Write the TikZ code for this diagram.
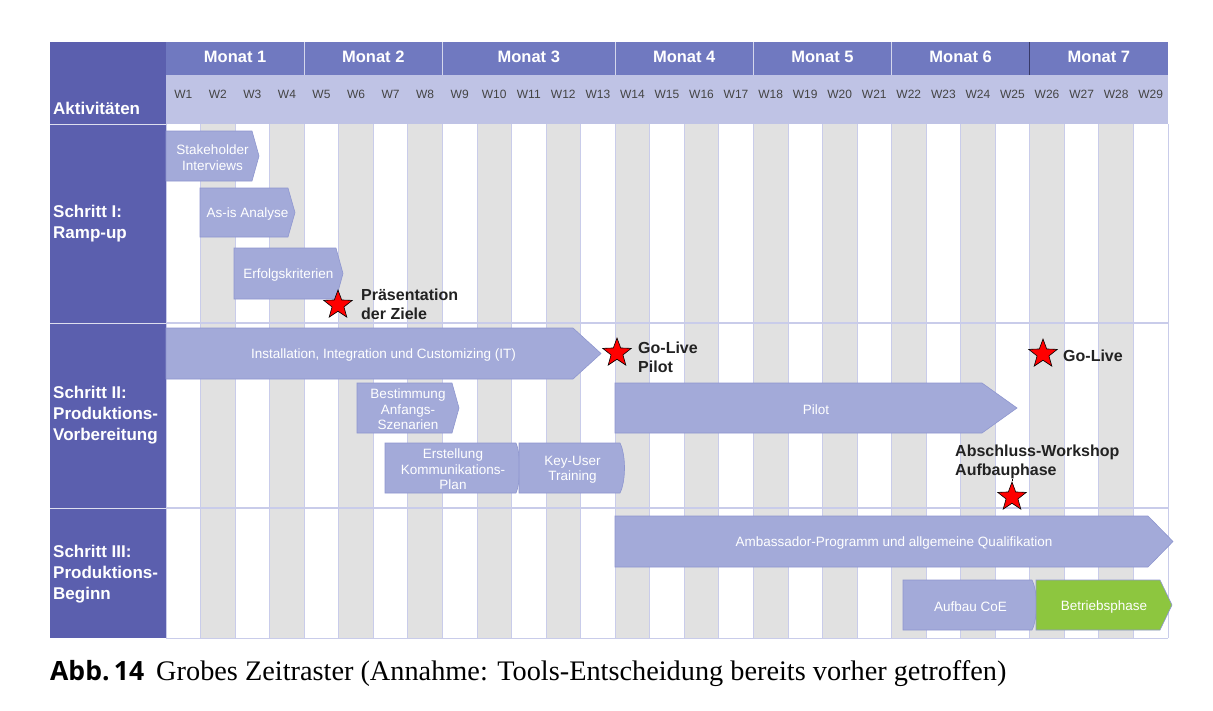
\documentclass[tikz,border=0pt]{standalone}
\usepackage{fontspec}
\setmainfont{Liberation Sans}
\newfontfamily\capsans{Open Sans}
\newfontfamily\capserif{Liberation Serif}
\usetikzlibrary{shapes.geometric}
\definecolor{leftcol}{HTML}{5B5FAE}
\definecolor{monthcol}{HTML}{7079C0}
\definecolor{weekcol}{HTML}{BFC3E5}
\definecolor{gridgrey}{HTML}{E1E1E1}
\definecolor{gridline}{HTML}{C9CCEA}
\definecolor{barfill}{HTML}{A3AAD9}
\definecolor{barline}{HTML}{8E96CF}
\definecolor{greenfill}{HTML}{8DC63F}
\definecolor{labeltext}{HTML}{222222}
\definecolor{weektext}{HTML}{444444}
\tikzset{
  monthlabel/.style={text=white,font=\bfseries\fontsize{16.5}{18}\selectfont},
  weeklabel/.style={text=weektext,font=\fontsize{12}{13}\selectfont},
  steplabel/.style={text=white,anchor=west,align=left,font=\bfseries\fontsize{17}{21}\selectfont,inner sep=0pt},
  bartext/.style={text=white,align=center,font=\fontsize{13.5}{15.5}\selectfont,inner sep=0pt},
  milestone/.style={star,star points=5,star point ratio=2.4,fill=red,draw=black,line width=0.6pt,minimum size=30pt,inner sep=0pt},
  mslabel/.style={text=labeltext,anchor=west,align=left,font=\bfseries\fontsize{16}{19}\selectfont,inner sep=0pt},
}
% name, x1, xbody, xtip, y1, y2, fill, text
\newcommand\gbar[8]{%
  \filldraw[fill=#7,draw=barline,line width=0.6pt] (#2,#5) -- (#3,#5) -- (#4,{(#5+#6)/2}) -- (#3,#6) -- (#2,#6) -- cycle;
  \node[bartext] (#1) at ({(#2+#4)/2},{(#5+#6)/2+1.5}) {#8};
}
% rounded (convex) right edge
\newcommand\rbar[8]{%
  \filldraw[fill=#7,draw=barline,line width=0.6pt] (#2,#5) -- (#3,#5) .. controls (#4,{#5+12}) and (#4,{#6-12}) .. (#3,#6) -- (#2,#6) -- cycle;
  \node[bartext] (#1) at ({(#2+#4)/2},{(#5+#6)/2+1.5}) {#8};
}
\begin{document}
\begin{tikzpicture}[x=1pt,y=-1pt]
\useasboundingbox (0,0) rectangle (1213,710);
% header backgrounds
\fill[monthcol] (166,42) rectangle (1168,75);
\fill[weekcol] (166,75) rectangle (1168,124);
\fill[leftcol] (50,42) rectangle (166,638);
% grid columns
\foreach \i in {1,...,29} {
  \pgfmathsetmacro\xa{166+(\i-1)*34.55}
  \pgfmathsetmacro\xb{166+\i*34.55}
  \ifodd\i\relax
    \fill[white] (\xa,124) rectangle (\xb,638);
  \else
    \fill[gridgrey] (\xa,124) rectangle (\xb,638);
  \fi
  \node[weeklabel] (w\i) at ({(\xa+\xb)/2},94) {W\i};
}
\foreach \i in {0,...,29} {
  \pgfmathsetmacro\xa{166+\i*34.55}
  \draw[gridline,line width=0.8pt] (\xa,124) -- (\xa,638);
}
% horizontal section lines
\draw[gridline,line width=1.5pt] (166,323) -- (1168,323);
\draw[gridline,line width=1.5pt] (166,508) -- (1168,508);
\draw[gridline,line width=1pt] (166,638) -- (1168,638);
\draw[white!80!leftcol,line width=1pt] (50,124) -- (166,124);
\draw[white!80!leftcol,line width=1pt] (50,323) -- (166,323);
\draw[white!80!leftcol,line width=1pt] (50,508) -- (166,508);
% months
\foreach \s/\e/\n in {0/4/1,4/8/2,8/13/3,13/17/4,17/21/5,21/25/6,25/29/7} {
  \pgfmathsetmacro\xa{166+\s*34.55}
  \pgfmathsetmacro\xb{166+\e*34.55}
  \node[monthlabel] (m\n) at ({(\xa+\xb)/2},57) {Monat \n};
}
\foreach \s in {4,8,13,17,21} {
  \pgfmathsetmacro\xa{166+\s*34.55}
  \draw[white!70!monthcol,line width=0.8pt] (\xa,42) -- (\xa,75);
}
\draw[leftcol!60!black,line width=0.8pt] (1029.8,42) -- (1029.8,75);
% left labels
\node[steplabel] (akt) at (53,108) {Aktivitäten};
\node[steplabel] (s1) at (53,224) {Schritt I:\\Ramp-up};
\node[steplabel] (s2) at (53,415) {Schritt II:\\Produktions-\\Vorbereitung};
\node[steplabel] (s3) at (53,574) {Schritt III:\\Produktions-\\Beginn};
% bars
\gbar{b1}{166}{252}{259}{131}{181}{barfill}{Stakeholder\\Interviews}
\gbar{b2}{200}{288}{295}{188}{237}{barfill}{As-is Analyse}
\gbar{b3}{234}{336}{343}{248}{299}{barfill}{Erfolgskriterien}
\gbar{b4}{166}{573}{601}{328}{379}{barfill}{Installation, Integration und Customizing (IT)}
\gbar{b5}{357}{452}{459}{383}{433}{barfill}{Bestimmung\\Anfangs-\\Szenarien}
\gbar{b6}{615}{982}{1017}{383}{433}{barfill}{Pilot}
\rbar{b7}{385}{516}{521}{443}{493}{barfill}{Erstellung\\Kommunikations-\\Plan}
\rbar{b8}{519}{620}{626}{443}{493}{barfill}{Key-User\\Training}
\gbar{b9}{615}{1148}{1173}{516}{567}{barfill}{Ambassador-Programm und allgemeine Qualifikation}
\rbar{b10}{903}{1032}{1038}{580}{630}{barfill}{Aufbau CoE}
\gbar{b11}{1036}{1160}{1172}{580}{630}{greenfill}{Betriebsphase}
% milestones
\node[milestone] (st1) at (338,305) {};
\node[mslabel] (l1) at (361,304) {Präsentation\\der Ziele};
\node[milestone] (st2) at (617,353) {};
\node[mslabel] (l2) at (638,357) {Go-Live\\Pilot};
\node[milestone] (st3) at (1043,354) {};
\node[mslabel] (l3) at (1063,356) {Go-Live};
\node[mslabel] (l4) at (955,462) {Abschluss-Workshop\\Aufbauphase};
\node[milestone] (st4) at (1012,497) {};
\draw[black,line width=0.8pt] (1012,479) -- (st4.north);
% caption
\node[anchor=base west,inner sep=0pt] (cap) at (50,680) {{\capsans\bfseries\fontsize{26.5}{28}\selectfont Abb.\,14}\hspace{12pt}{\capserif\fontsize{28.3}{30}\selectfont Grobes Zeitraster (Annahme: Tools-Entscheidung bereits vorher getroffen)}};
\end{tikzpicture}
\end{document}
